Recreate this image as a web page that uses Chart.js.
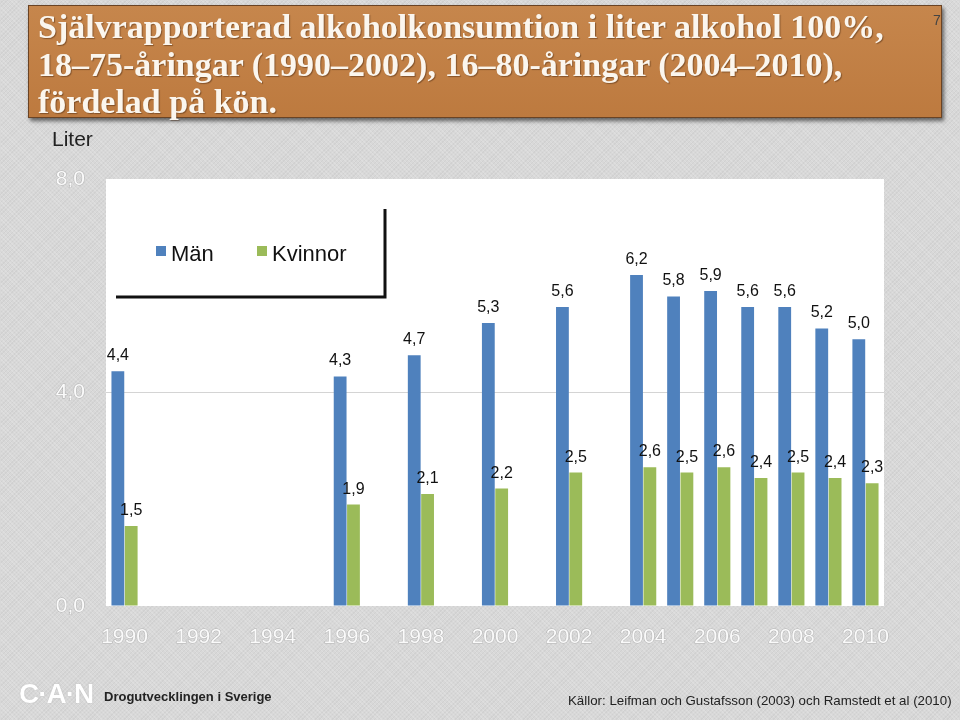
<!DOCTYPE html>
<html lang="sv">
<head>
<meta charset="utf-8">
<title>Självrapporterad alkoholkonsumtion</title>
<script src="https://cdn.jsdelivr.net/npm/chart.js@4.4.1/dist/chart.umd.min.js"></script>
<style>
  html, body { margin: 0; padding: 0; }
  body {
    width: 960px; height: 720px; position: relative; overflow: hidden;
    background-color: #d8d8d8;
    background-image:
      repeating-linear-gradient(45deg, rgba(255,255,255,0.16) 0 1px, transparent 1px 3px),
      repeating-linear-gradient(-45deg, rgba(0,0,0,0.035) 0 1px, transparent 1px 3px);
    font-family: "Liberation Sans", Arial, sans-serif;
  }
  #chart { position: absolute; left: 0; top: 0; }
  .title-box {
    position: absolute; left: 28px; top: 5px; width: 914px; height: 113px;
    box-sizing: border-box;
    background: linear-gradient(180deg, #c6864c 0%, #bd7a3f 100%);
    border: 1px solid #6a4324;
    box-shadow: 2px 3px 4px rgba(0,0,0,0.55);
  }
  .title-box h1 {
    margin: 0; position: absolute; left: 9px; top: 2px; white-space: nowrap;
    font-family: "Liberation Serif", "Times New Roman", serif;
    font-weight: bold; font-size: 34px; line-height: 37.5px;
    color: #fbf6ee; text-shadow: 1px 1px 1px rgba(60,30,10,0.45);
  }
  .slide-no { position: absolute; left: 933px; top: 12px; font-size: 14px; color: #444; }
  .unit { position: absolute; left: 52px; top: 127px; font-size: 21px; color: #222; }
  .logo {
    position: absolute; left: 19px; top: 678px; font-size: 28px; font-weight: bold;
    color: #fff; letter-spacing: -1px; text-shadow: 0 0 1px rgba(120,120,120,0.6);
  }
  .org { position: absolute; left: 104px; top: 689px; font-size: 13px; font-weight: bold; color: #222; }
  .source { position: absolute; left: 568px; top: 693px; font-size: 13.3px; color: #222; white-space: nowrap; }
</style>
</head>
<body>
<canvas id="chart" width="960" height="720"></canvas>
<div class="title-box"><h1>Självrapporterad alkoholkonsumtion i liter alkohol 100%,<br>18–75-åringar (1990–2002), 16–80-åringar (2004–2010),<br>fördelad på kön.</h1></div>
<div class="slide-no">7</div>
<div class="unit">Liter</div>
<div class="logo">C·A·N</div>
<div class="org">Drogutvecklingen i Sverige</div>
<div class="source">Källor: Leifman och Gustafsson (2003) och Ramstedt et al (2010)</div>
<script>
// === Data ===
const years = ["1990", "1991", "1992", "1993", "1994", "1995", "1996", "1997", "1998", "1999", "2000",
               "2001", "2002", "2003", "2004", "2005", "2006", "2007", "2008", "2009", "2010"];
const shownYears = ["1990", "1992", "1994", "1996", "1998", "2000", "2002", "2004", "2006", "2008", "2010"];
const manValues = [4.4, null, null, null, null, null, 4.3, null, 4.7, null, 5.3,
                   null, 5.6, null, 6.2, 5.8, 5.9, 5.6, 5.6, 5.2, 5.0];
const womenValues = [1.5, null, null, null, null, null, 1.9, null, 2.1, null, 2.2,
                     null, 2.5, null, 2.6, 2.5, 2.6, 2.4, 2.5, 2.4, 2.3];
const yTicks = [0, 4, 8];

const fmt = v => v.toFixed(1).replace(".", ",");

// === White plot background ===
const plotBg = {
  id: "plotBg",
  beforeDraw(chart) {
    const { ctx, chartArea: a } = chart;
    ctx.save();
    ctx.fillStyle = "#ffffff";
    ctx.fillRect(a.left, a.top, a.right - a.left, a.bottom - a.top);
    ctx.restore();
  }
};

// === Value labels above bars ===
const valueLabels = {
  id: "valueLabels",
  afterDatasetsDraw(chart) {
    const ctx = chart.ctx;
    ctx.save();
    ctx.font = '16px "Liberation Sans", Arial, sans-serif';
    ctx.fillStyle = "#111";
    ctx.textAlign = "center";
    ctx.textBaseline = "alphabetic";
    chart.data.datasets.forEach((ds, di) => {
      chart.getDatasetMeta(di).data.forEach((bar, i) => {
        const v = ds.data[i];
        if (v == null) return;
        ctx.fillText(fmt(v), bar.x, bar.y - 11);
      });
    });
    ctx.restore();
  }
};

// === Legend inside plot, with its dark shadow edge ===
const innerLegend = {
  id: "innerLegend",
  afterDraw(chart) {
    const { ctx, chartArea: a } = chart;
    ctx.save();
    ctx.strokeStyle = "#111";
    ctx.lineWidth = 3;
    ctx.beginPath();
    ctx.moveTo(a.left + 10, a.top + 118);
    ctx.lineTo(a.left + 279, a.top + 118);
    ctx.lineTo(a.left + 279, a.top + 30);
    ctx.stroke();

    ctx.font = '22px "Liberation Sans", Arial, sans-serif';
    ctx.textBaseline = "middle";
    let x = a.left + 50;
    const y = a.top + 76;
    chart.data.datasets.forEach(ds => {
      ctx.fillStyle = ds.backgroundColor;
      ctx.fillRect(x, y - 9, 10, 10);
      ctx.fillStyle = "#111";
      ctx.fillText(ds.label, x + 15, y);
      x += 101;
    });
    ctx.restore();
  }
};

new Chart(document.getElementById("chart"), {
  type: "bar",
  data: {
    labels: years,
    datasets: [
      { label: "Män", data: manValues, backgroundColor: "#4f81bd" },
      { label: "Kvinnor", data: womenValues, backgroundColor: "#9bbb59" }
    ]
  },
  options: {
    responsive: false,
    animation: false,
    devicePixelRatio: 1,
    layout: { padding: { left: 0, top: 179, right: 76, bottom: 54 } },
    datasets: { bar: { categoryPercentage: 0.72, barPercentage: 0.96 } },
    plugins: { legend: { display: false }, tooltip: { enabled: false } },
    scales: {
      x: {
        grid: { display: false, drawTicks: false },
        border: { display: false },
        afterFit(axis) { axis.height = 60; },
        ticks: {
          autoSkip: false, maxRotation: 0, padding: 19,
          color: "#fafafa", textStrokeColor: "rgba(150,150,150,0.55)", textStrokeWidth: 1,
          font: { family: '"Liberation Sans", Arial, sans-serif', size: 21 },
          callback: (v, i) => shownYears.includes(years[i]) ? years[i] : ""
        }
      },
      y: {
        min: 0, max: 8,
        afterFit(axis) { axis.width = 106; },
        afterBuildTicks(axis) { axis.ticks = yTicks.map(v => ({ value: v })); },
        grid: {
          drawTicks: false,
          color: c => (c.tick && c.tick.value === 4) ? "#d4d4d4" : "rgba(0,0,0,0)"
        },
        border: { display: false },
        ticks: {
          padding: 21,
          color: "#fafafa", textStrokeColor: "rgba(150,150,150,0.55)", textStrokeWidth: 1,
          font: { family: '"Liberation Sans", Arial, sans-serif', size: 21 },
          callback: v => fmt(v)
        }
      }
    }
  },
  plugins: [plotBg, valueLabels, innerLegend]
});
</script>
</body>
</html>
